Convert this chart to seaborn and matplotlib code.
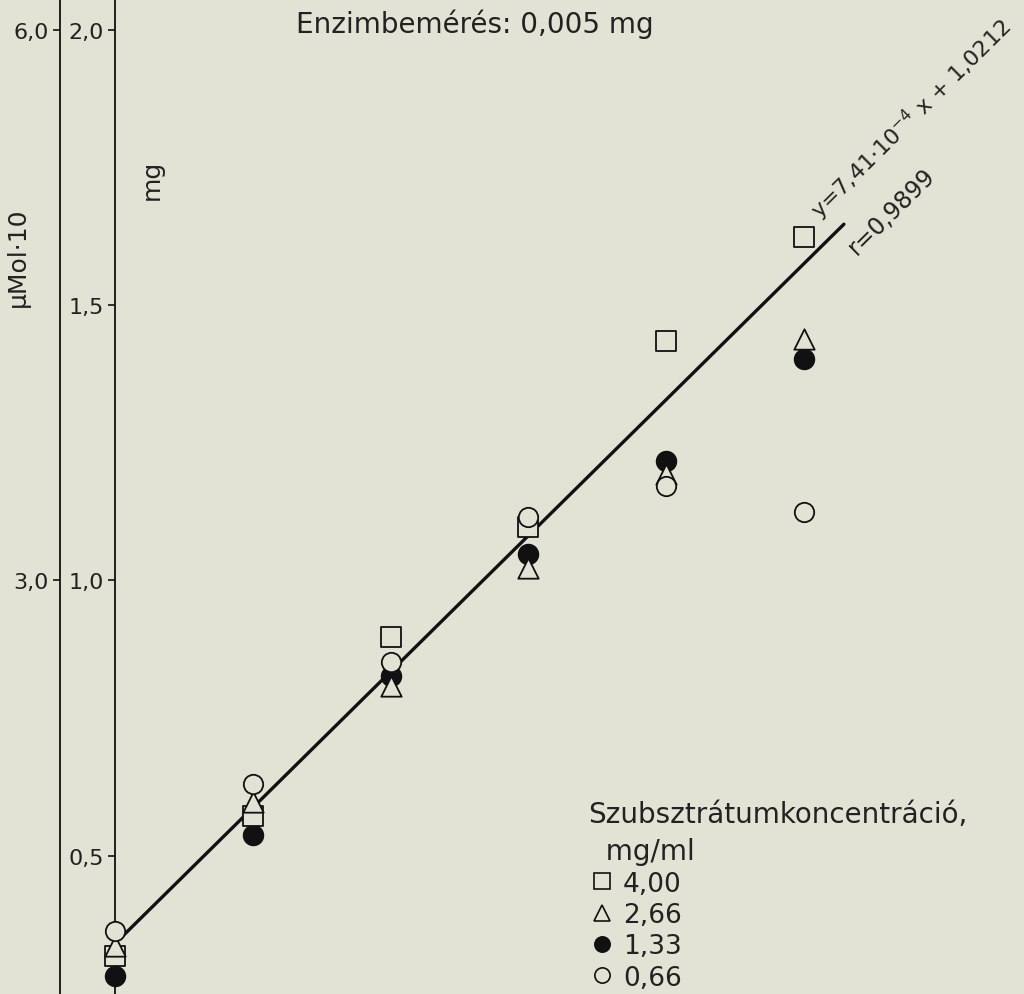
import numpy as np
import pandas as pd
import matplotlib
matplotlib.use("Agg")
import matplotlib.pyplot as plt
from matplotlib.lines import Line2D
import seaborn as sns

# meresi pontok (x) es a mert mennyisegek mg-ban, koncentracionkent
x_pont = [0, 1000, 2000, 3000, 4000, 5000]
konc_cimkek = ["4,00", "2,66", "1,33", "0,66"]
mg_400 = [0.318, 0.572, 0.898, 1.097, 1.435, 1.624]
mg_266 = [0.336, 0.598, 0.809, 1.023, 1.194, 1.439]
mg_133 = [0.282, 0.538, 0.827, 1.048, 1.217, 1.402]
mg_066 = [0.364, 0.631, 0.852, 1.116, 1.172, 1.125]

# regresszios egyenes: y = 7,41e-4 * x + 1,0212  (µMol·10 egysegben)
reg_meredekseg = 7.41e-4
reg_tengelymetszet = 1.0212
reg_x = [40, 5290]

mg_tick = [0.5, 1.0, 1.5, 2.0]
mg_tick_cimke = ["0,5", "1,0", "1,5", "2,0"]
umol_tick = [3.0, 6.0]
umol_tick_cimke = ["3,0", "6,0"]

HATTER = "#e3e3d5"

df = pd.DataFrame({
    "x": x_pont * 4,
    "mg": mg_400 + mg_266 + mg_133 + mg_066,
    "konc": sum([[c] * len(x_pont) for c in konc_cimkek], []),
})

sns.set_theme(style="ticks", rc={"axes.facecolor": HATTER, "figure.facecolor": HATTER})
plt.rcParams["font.family"] = ["DejaVu Sans"]

fig = plt.figure(figsize=(10.24, 9.95), dpi=100)
ax = fig.add_axes([115 / 1024, 0, 909 / 1024, 1])

# regresszios egyenes mg-ban (a µMol·10 ertek harmada)
reg_df = pd.DataFrame({"x": reg_x})
reg_df["mg"] = (reg_meredekseg * reg_df["x"] + reg_tengelymetszet) / 3
sns.lineplot(data=reg_df, x="x", y="mg", color="#111111", linewidth=2.4, ax=ax, zorder=2)

stilus = {
    "4,00": dict(marker="s", s=195, facecolor=HATTER),
    "2,66": dict(marker="^", s=215, facecolor=HATTER),
    "1,33": dict(marker="o", s=200, facecolor="#111111"),
    "0,66": dict(marker="o", s=195, facecolor=HATTER),
}
sorrend = ["1,33", "4,00", "2,66", "0,66"]
for k in sorrend:
    sub = df[df["konc"] == k]
    sns.scatterplot(data=sub, x="x", y="mg", edgecolor="#111111", linewidth=1.3,
                    clip_on=False, zorder=3, ax=ax, legend=False, **stilus[k])

ax.set_xlim(0, 6597)
ax.set_ylim(0.249, 2.056)
ax.set_xlabel("")
ax.set_ylabel("")
ax.set_xticks([])
ax.set_yticks(mg_tick)
ax.set_yticklabels(mg_tick_cimke, fontsize=16, color="#222222")
ax.tick_params(axis="y", direction="out", length=5, width=1.2, pad=3, color="#111111")
for s in ["top", "right", "bottom"]:
    ax.spines[s].set_visible(False)
ax.spines["left"].set_linewidth(1.3)
ax.spines["left"].set_color("#111111")

# kulso tengely: µMol·10 = 3 * mg
sec = ax.secondary_yaxis(-55 / 909, functions=(lambda m: 3 * m, lambda u: u / 3))
sec.set_yticks(umol_tick)
sec.set_yticklabels(umol_tick_cimke, fontsize=16, color="#222222")
sec.tick_params(axis="y", direction="out", length=5, width=1.2, pad=3, color="#111111")
sec.spines["left"].set_linewidth(1.3)
sec.spines["left"].set_color("#111111")

fig.text(152 / 1024, 1 - 180 / 995, "mg", rotation=90, ha="center", va="center",
         fontsize=18, color="#222222")
fig.text(18 / 1024, 1 - 257 / 995, "µMol·10", rotation=90, ha="center", va="center",
         fontsize=18, color="#222222")
fig.text(475 / 1024, 1 - 33 / 995, "Enzimbemérés: 0,005 mg", ha="center", va="baseline",
         fontsize=20, color="#222222")

fig.text(820 / 1024, 1 - 220 / 995, "y=7,41·10$^{-4}$ x + 1,0212", rotation=44.7,
         rotation_mode="anchor", ha="left", va="baseline", fontsize=16, color="#222222")
fig.text(857 / 1024, 1 - 256 / 995, "r=0,9899", rotation=44.7,
         rotation_mode="anchor", ha="left", va="baseline", fontsize=17, color="#222222")

jelolok = []
for k in konc_cimkek:
    st = stilus[k]
    jelolok.append(Line2D([], [], linestyle="none", marker=st["marker"], markersize=11,
                          markerfacecolor=st["facecolor"], markeredgecolor="#111111",
                          markeredgewidth=1.2, label=k))
leg = ax.legend(handles=jelolok, title="Szubsztrátumkoncentráció,\n  mg/ml",
                loc="lower left", bbox_to_anchor=(570 / 1024, -15 / 995),
                bbox_transform=fig.transFigure, frameon=False, fontsize=19,
                title_fontsize=20, alignment="left", labelspacing=0.2,
                handletextpad=0.3, handlelength=1.0, borderpad=0.2)
leg.get_title().set_linespacing(1.45)
for t in leg.get_texts():
    t.set_color("#222222")
leg.get_title().set_color("#222222")

plt.savefig("out.png", dpi=100, facecolor=HATTER)
